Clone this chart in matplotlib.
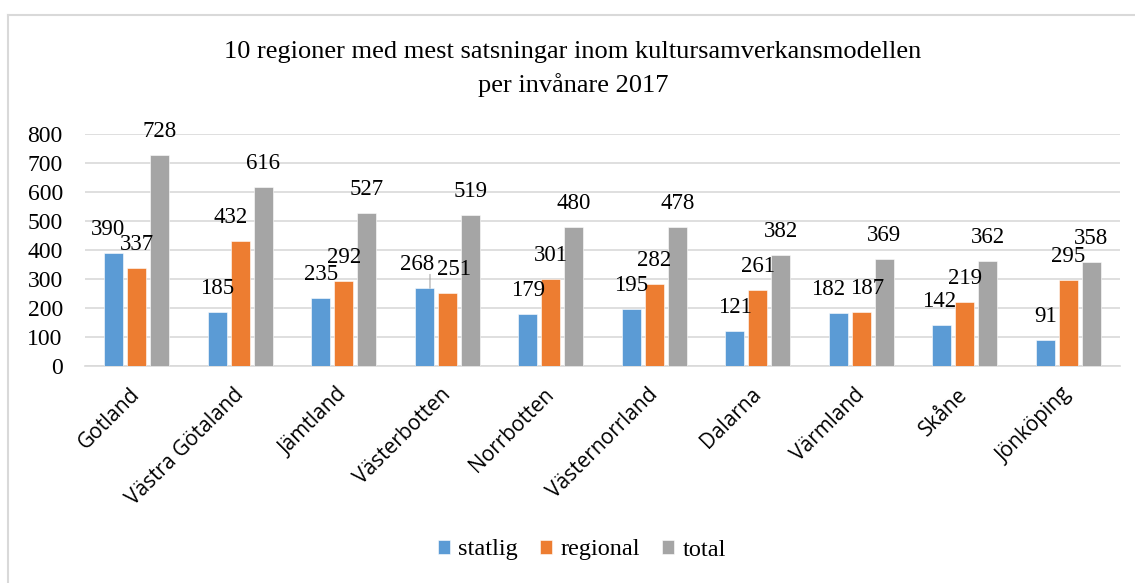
import numpy as np
import matplotlib.pyplot as plt
from matplotlib.lines import Line2D

# Data
regions = ["Gotland", "Västra Götaland", "Jämtland", "Västerbotten", "Norrbotten",
           "Västernorrland", "Dalarna", "Värmland", "Skåne", "Jönköping"]
statlig = [390, 185, 235, 268, 179, 195, 121, 182, 142, 91]
regional = [337, 432, 292, 251, 301, 282, 261, 187, 219, 295]
total = [728, 616, 527, 519, 480, 478, 382, 369, 362, 358]
series_names = ["statlig", "regional", "total"]
y_ticks = [0, 100, 200, 300, 400, 500, 600, 700, 800]

colors = ["#5B9BD5", "#ED7D31", "#A5A5A5"]
grid_color = "#D9D9D9"
serif = "Liberation Serif"

fig = plt.figure(figsize=(11.35, 5.83), dpi=100)
ax = fig.add_axes([85 / 1135, 1 - 366 / 583, (1120 - 85) / 1135, (366 - 134) / 583])

x = np.arange(len(regions))
offsets = [-0.222, 0.0, 0.222]
width = 0.184

# manual label nudges (points), as the labels were moved by hand in the original
nudges = {(0, 0): -4, (1, 1): -7, (3, 0): -5, (3, 1): 5, (7, 0): -7, (7, 1): 4, (8, 0): -2}

for i, (vals, col, name) in enumerate(zip([statlig, regional, total], colors, series_names)):
    bars = ax.bar(x + offsets[i], vals, width, color=col, label=name,
                  edgecolor="white", linewidth=0.4, zorder=3)
    for j, b in enumerate(bars):
        ax.annotate(str(vals[j]), (b.get_x() + b.get_width() / 2, b.get_height()),
                    xytext=(nudges.get((j, i), 0), 13), textcoords="offset points",
                    ha="center", va="baseline", fontsize=16.5, family=serif, zorder=4)

# leader line under the moved "268" label
b = ax.patches[3]
ax.annotate("", xy=(b.get_x() + b.get_width() * 0.8, b.get_height()),
            xytext=(0, 10), textcoords="offset points",
            arrowprops=dict(arrowstyle="-", color="#A6A6A6", lw=0.8, shrinkA=0, shrinkB=0))

ax.set_xlim(-0.5, len(regions) - 0.5)
ax.set_ylim(0, 800)
ax.set_yticks(y_ticks)
ax.yaxis.grid(True, color=grid_color, linewidth=1.2, zorder=0)
for s in ["top", "right", "left"]:
    ax.spines[s].set_visible(False)
ax.spines["bottom"].set_color(grid_color)
ax.spines["bottom"].set_linewidth(1.2)
ax.tick_params(axis="y", length=0, pad=16, labelsize=17)
ax.tick_params(axis="x", length=0, pad=4)
for lab in ax.get_yticklabels():
    lab.set_family(serif)

ax.set_xticks(x)
ax.set_xticklabels(regions, rotation=45, ha="right", va="center",
                   rotation_mode="anchor", family="Open Sans", fontsize=15)
for lab in ax.get_xticklabels():
    lab.set_y(-0.085)

fig.text(573 / 1135, 1 - 52 / 583, "10 regioner med mest satsningar inom kultursamverkansmodellen",
         ha="center", va="center", family=serif, fontsize=19)
fig.text(573 / 1135, 1 - 85 / 583, "per invånare 2017",
         ha="center", va="center", family=serif, fontsize=19)

fig.legend(loc="center", bbox_to_anchor=(582 / 1135, 1 - 550 / 583), ncol=3, frameon=False,
           prop={"family": serif, "size": 17.5}, handlelength=0.5, handleheight=0.5,
           handletextpad=0.35, columnspacing=0.9)

# chart frame (partly cropped like the reference)
fig.add_artist(Line2D([8 / 1135, 1], [1 - 15 / 583, 1 - 15 / 583], color=grid_color, lw=1.5))
fig.add_artist(Line2D([8 / 1135, 8 / 1135], [0, 1 - 15 / 583], color=grid_color, lw=1.5))

fig.savefig("out.png", dpi=100)
